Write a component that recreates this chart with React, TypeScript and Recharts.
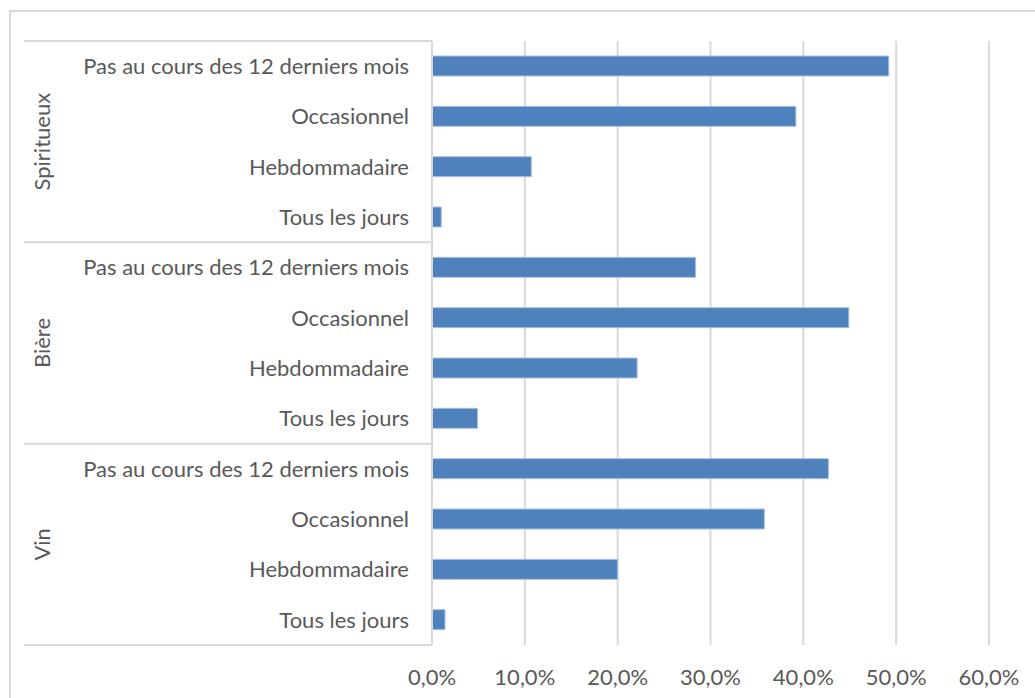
import { Bar, BarChart, CartesianGrid, XAxis, YAxis } from "recharts";

const groups = ["Spiritueux", "Bière", "Vin"];
const frequencies = ["Pas au cours des 12 derniers mois", "Occasionnel", "Hebdommadaire", "Tous les jours"];
const spiritueux = [49.2, 39.2, 10.7, 1.0];
const biere = [28.4, 44.9, 22.1, 4.9];
const vin = [42.7, 35.8, 20.0, 1.4];
const xTicks = [0, 10, 20, 30, 40, 50, 60];

const valuesByGroup = [spiritueux, biere, vin];

const data = groups.flatMap((group, gi) =>
  frequencies.map((label, fi) => ({
    id: `${group}|${label}`,
    group,
    label,
    value: valuesByGroup[gi][fi],
  }))
);

const WIDTH = 1035;
const HEIGHT = 698;
const MARGIN = { top: 41, right: 46, bottom: 13, left: 24 };
const X_AXIS_HEIGHT = 40;
const GROUP_AXIS_WIDTH = 40;
const SUB_AXIS_WIDTH = 368;
const PLOT_LEFT = MARGIN.left + GROUP_AXIS_WIDTH + SUB_AXIS_WIDTH;
const PLOT_HEIGHT = HEIGHT - MARGIN.top - MARGIN.bottom - X_AXIS_HEIGHT;
const GROUP_BAND = PLOT_HEIGHT / groups.length;

// axis ids: the inner (sub-category) axis must sort first so it sits next to the plot
const SUB_AXIS = "a-sub";
const GROUP_AXIS = "b-group";

const FONT = "Lato, 'Noto Sans', sans-serif";
const FONT_SIZE = 22;
const TEXT = "#595959";
const LINE = "#d9d9d9";

function SubTick({ x, y, payload }: any) {
  const label = String(payload.value).split("|")[1];
  return (
    <text x={x} y={y} dy="0.355em" textAnchor="end" fill={TEXT} fontSize={FONT_SIZE} fontFamily={FONT}>
      {label}
    </text>
  );
}

function GroupTick({ x, y, payload, index }: any) {
  const top = y - GROUP_BAND / 2;
  const bottom = y + GROUP_BAND / 2;
  return (
    <g>
      <line x1={MARGIN.left} x2={PLOT_LEFT} y1={top} y2={top} stroke={LINE} strokeWidth={2} />
      {index === groups.length - 1 && (
        <line x1={MARGIN.left} x2={PLOT_LEFT} y1={bottom} y2={bottom} stroke={LINE} strokeWidth={2} />
      )}
      <text
        transform={`translate(${x - 8}, ${y}) rotate(-90)`}
        textAnchor="middle"
        fill={TEXT}
        fontSize={FONT_SIZE}
        fontFamily={FONT}
      >
        {payload.value}
      </text>
    </g>
  );
}

export default function App() {
  return (
    <div style={{ position: "fixed", inset: 0, overflow: "hidden", background: "#fff" }}>
      <div
        style={{
          position: "absolute",
          left: 9,
          top: 10,
          width: WIDTH + 20,
          height: HEIGHT + 20,
          border: `2px solid ${LINE}`,
        }}
      />
      <div style={{ position: "absolute", left: 0, top: 0 }}>
        <BarChart width={WIDTH} height={HEIGHT} data={data} layout="vertical" margin={MARGIN}>
          <CartesianGrid horizontal={false} stroke={LINE} strokeWidth={2} yAxisId={SUB_AXIS} />
          <XAxis
            type="number"
            domain={[0, 60]}
            ticks={xTicks}
            interval={0}
            height={X_AXIS_HEIGHT}
            axisLine={false}
            tickLine={false}
            tickMargin={18}
            tickFormatter={(v: number) => `${v.toFixed(1).replace(".", ",")}%`}
            tick={{ fill: TEXT, fontSize: FONT_SIZE, fontFamily: FONT }}
          />
          <YAxis
            yAxisId={SUB_AXIS}
            type="category"
            dataKey="id"
            width={SUB_AXIS_WIDTH}
            interval={0}
            axisLine={{ stroke: LINE, strokeWidth: 2 }}
            tickLine={false}
            tickMargin={17}
            tick={<SubTick />}
          />
          <YAxis
            yAxisId={GROUP_AXIS}
            type="category"
            dataKey="group"
            allowDuplicatedCategory={false}
            width={GROUP_AXIS_WIDTH}
            interval={0}
            axisLine={false}
            tickLine={false}
            tickMargin={0}
            tick={<GroupTick />}
          />
          <Bar
            yAxisId={SUB_AXIS}
            dataKey="value"
            fill="#4f81bd"
            stroke="#a9c1e3"
            strokeWidth={1}
            barSize={20}
            isAnimationActive={false}
          />
        </BarChart>
      </div>
    </div>
  );
}
